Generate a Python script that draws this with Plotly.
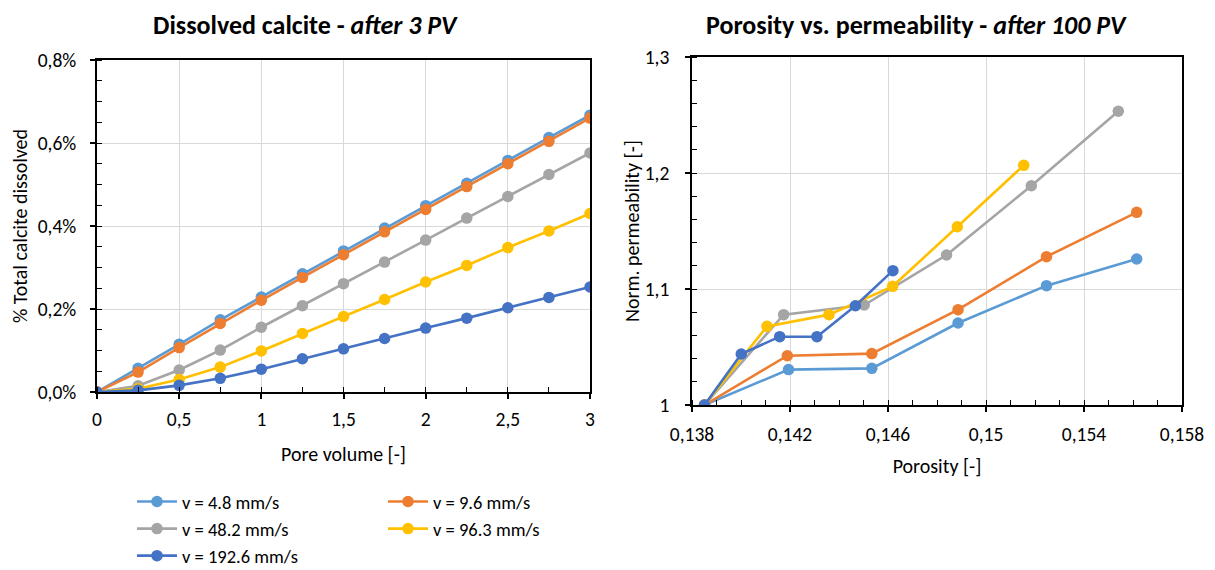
import plotly.graph_objects as go

# ---------------- data ----------------
series_names = ["v = 4.8 mm/s", "v = 9.6 mm/s", "v = 48.2 mm/s", "v = 96.3 mm/s", "v = 192.6 mm/s"]
colors = ["#5B9BD5", "#ED7D31", "#A5A5A5", "#FFC000", "#4472C4"]

pore_volume = [0, 0.25, 0.5, 0.75, 1, 1.25, 1.5, 1.75, 2, 2.25, 2.5, 2.75, 3]
dissolved_4_8 = [0, 0.057, 0.115, 0.174, 0.229, 0.285, 0.340, 0.395, 0.449, 0.503, 0.558, 0.613, 0.667]
dissolved_9_6 = [0, 0.048, 0.107, 0.165, 0.221, 0.276, 0.331, 0.386, 0.440, 0.495, 0.550, 0.604, 0.660]
dissolved_48_2 = [0, 0.015, 0.053, 0.101, 0.156, 0.208, 0.261, 0.313, 0.366, 0.419, 0.471, 0.524, 0.576]
dissolved_96_3 = [0, 0.008, 0.030, 0.060, 0.099, 0.141, 0.182, 0.223, 0.265, 0.305, 0.348, 0.388, 0.430]
dissolved_192_6 = [0, 0.004, 0.016, 0.033, 0.055, 0.080, 0.104, 0.129, 0.154, 0.178, 0.203, 0.228, 0.253]

poro_4_8 = [0.13851, 0.14194, 0.14534, 0.14886, 0.15247, 0.15615]
perm_4_8 = [1.0, 1.0305, 1.0316, 1.0707, 1.1029, 1.1259]
poro_9_6 = [0.13851, 0.14189, 0.14534, 0.14886, 0.15247, 0.15615]
perm_9_6 = [1.0, 1.0425, 1.0443, 1.0822, 1.1279, 1.1661]
poro_48_2 = [0.13851, 0.14174, 0.14503, 0.14839, 0.15185, 0.15540]
perm_48_2 = [1.0, 1.0779, 1.0862, 1.1293, 1.1890, 1.2532]
poro_96_3 = [0.13851, 0.14106, 0.14359, 0.14619, 0.14883, 0.15154]
perm_96_3 = [1.0, 1.0678, 1.0779, 1.1023, 1.1537, 1.2066]
poro_192_6 = [0.13851, 0.14001, 0.14158, 0.14310, 0.14467, 0.14620]
perm_192_6 = [1.0, 1.0440, 1.0589, 1.0589, 1.0856, 1.1158]

dissolved = [dissolved_4_8, dissolved_9_6, dissolved_48_2, dissolved_96_3, dissolved_192_6]
porosity = [poro_4_8, poro_9_6, poro_48_2, poro_96_3, poro_192_6]
permeability = [perm_4_8, perm_9_6, perm_48_2, perm_96_3, perm_192_6]

FONT = "Carlito, Lato, 'Open Sans', sans-serif"
W, H = 1215, 570

fig = go.Figure()
for i, name in enumerate(series_names):
    leg = "legend" if i in (0, 2, 4) else "legend2"
    fig.add_trace(go.Scatter(
        x=pore_volume, y=dissolved[i], mode="lines+markers", name=name,
        line=dict(color=colors[i], width=2.6),
        marker=dict(color=colors[i], size=11.5, line=dict(width=0)),
        xaxis="x", yaxis="y", legend=leg, showlegend=True))
for i, name in enumerate(series_names):
    fig.add_trace(go.Scatter(
        x=porosity[i], y=permeability[i], mode="lines+markers", name=name,
        line=dict(color=colors[i], width=2.6),
        marker=dict(color=colors[i], size=11.5, line=dict(width=0)),
        xaxis="x2", yaxis="y2", showlegend=False))

TICK = 19.5
axis_common = dict(
    showline=True, linecolor="black", linewidth=1.6, mirror=True,
    showgrid=True, gridcolor="#D9D9D9", gridwidth=1.3,
    ticks="outside", ticklen=5, tickcolor="black", tickwidth=1.6,
    zeroline=False, automargin=False,
    tickfont=dict(size=TICK, color="black", family=FONT),
    title_font=dict(size=20, color="black", family=FONT),
)
minor_common = dict(ticks="inside", ticklen=5, tickcolor="black", tickwidth=1.4, showgrid=False)

def xdom(a, b):
    return [a / W, b / W]

def ydom(top, bottom):
    return [1 - bottom / H, 1 - top / H]

fig.update_layout(
    width=W, height=H,
    margin=dict(l=0, r=0, t=0, b=0, autoexpand=False),
    paper_bgcolor="white", plot_bgcolor="white",
    separators=", ",
    font=dict(family=FONT, color="black", size=TICK),
    xaxis=dict(axis_common, domain=xdom(97, 590), range=[0, 3], dtick=0.5,
               ticklabelstandoff=4,
               title_text="Pore volume [-]", title_standoff=17,
               minor=dict(minor_common, dtick=0.25), anchor="y"),
    yaxis=dict(axis_common, domain=ydom(60, 392), range=[0, 0.8], dtick=0.2,
               tickformat=".1f", ticksuffix="%", ticklabelstandoff=10,
               title_text="% Total calcite dissolved", title_standoff=5,
               minor=dict(minor_common, dtick=0.05), anchor="x"),
    xaxis2=dict(axis_common, domain=xdom(692, 1182), range=[0.138, 0.158], dtick=0.004, tick0=0.138,
                ticklabelstandoff=6,
                title_text="Porosity [-]", title_standoff=14,
                minor=dict(minor_common, dtick=0.001), anchor="y2"),
    yaxis2=dict(axis_common, domain=ydom(57, 405), range=[1, 1.3], dtick=0.1,
                ticklabelstandoff=12,
                title_text="Norm. permeability [-]", title_standoff=0,
                minor=dict(minor_common, dtick=0.02), anchor="x2"),
    legend=dict(x=132 / W, y=1 - 483 / H, xanchor="left", yanchor="top",
                orientation="v", font=dict(size=18.5, family=FONT), itemwidth=40,
                bgcolor="rgba(0,0,0,0)", tracegroupgap=0),
    legend2=dict(x=383 / W, y=1 - 483 / H, xanchor="left", yanchor="top",
                 orientation="v", font=dict(size=18.5, family=FONT), itemwidth=40,
                 bgcolor="rgba(0,0,0,0)", tracegroupgap=0),
    annotations=[
        dict(text="<b>Dissolved calcite - <i>after 3 PV</i></b>", x=306 / W, y=1 - 25 / H,
             xref="paper", yref="paper", showarrow=False, font=dict(size=26, family=FONT),
             xanchor="center", yanchor="middle"),
        dict(text="<b>Porosity vs. permeability - <i>after 100 PV</i></b>", x=916 / W, y=1 - 25 / H,
             xref="paper", yref="paper", showarrow=False, font=dict(size=26, family=FONT),
             xanchor="center", yanchor="middle"),
    ],
)

fig.write_html("out.html")
